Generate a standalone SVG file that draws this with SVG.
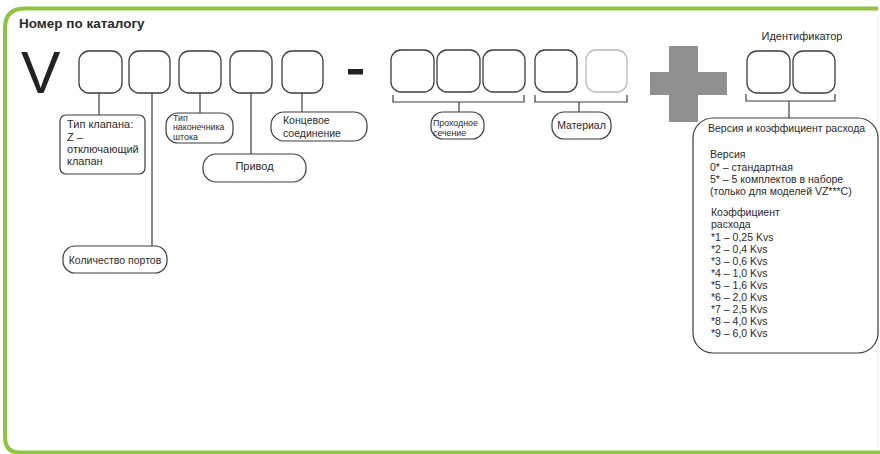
<svg xmlns="http://www.w3.org/2000/svg" width="880" height="454" viewBox="0 0 880 454">
<style>
  text { font-family: "Liberation Sans", Arial, sans-serif; fill: #2a2a2a; }
  .box { fill: #fff; stroke: #3c3c3c; stroke-width: 1.3; }
  .boxl { fill: #fff; stroke: #b8b8b8; stroke-width: 1.3; }
  .lbl { fill: #fff; stroke: #3c3c3c; stroke-width: 1.2; }
  .ln { fill: none; stroke: #3c3c3c; stroke-width: 1.2; }
  .t { font-size: 10.5px; }
  .s { font-size: 8.8px; }
</style>
<rect width="880" height="454" fill="#fff"/>
<line x1="878" y1="14" x2="878" y2="448" stroke="#ececec" stroke-width="1"/>
<path d="M 878 8.5 H 25 Q 5 8.5 5 28 V 437 Q 5 452.5 20 452.5 H 880" fill="none" stroke="#8cc63f" stroke-width="4"/>

<g id="title"><text x="19" y="28" style="font-size:13.5px;font-weight:bold">Номер по каталогу</text></g>
<g id="v-letter"><text x="21" y="93" style="font-size:59px;fill:#222">V</text></g>

<g id="code-boxes-1">
  <rect class="box" x="79" y="51" width="43" height="42" rx="10"/>
  <rect class="box" x="129" y="51" width="41" height="42" rx="10"/>
  <rect class="box" x="179" y="51" width="42" height="42" rx="10"/>
  <rect class="box" x="230" y="51" width="42" height="42" rx="10"/>
  <rect class="box" x="282" y="51" width="41" height="42" rx="10"/>
</g>
<g id="dash"><rect x="348" y="69" width="15" height="5.5" fill="#222"/></g>
<g id="code-boxes-2">
  <rect class="box" x="391" y="50" width="43" height="42" rx="10"/>
  <rect class="box" x="437" y="50" width="43" height="42" rx="10"/>
  <rect class="box" x="483" y="50" width="42" height="42" rx="10"/>
  <rect class="box" x="535" y="50" width="42" height="42" rx="10"/>
  <rect class="boxl" x="586" y="50" width="41" height="42" rx="10"/>
</g>
<g id="plus" fill="#8f8f8f">
  <rect x="669" y="46" width="29" height="76"/>
  <rect x="650" y="72" width="77" height="23"/>
</g>
<g id="identifier">
  <text x="802" y="40" text-anchor="middle" style="font-size:11px">Идентификатор</text>
  <rect class="box" x="747" y="51" width="43" height="42" rx="10"/>
  <rect class="box" x="793" y="51" width="42" height="42" rx="10"/>
</g>

<g id="connectors">
  <line class="ln" x1="99" y1="93" x2="99" y2="115"/>
  <line class="ln" x1="152" y1="93" x2="152" y2="246"/>
  <line class="ln" x1="200" y1="93" x2="200" y2="113"/>
  <line class="ln" x1="251" y1="93" x2="251" y2="154"/>
  <line class="ln" x1="302" y1="93" x2="302" y2="112"/>
  <path class="ln" d="M 393 95 V 102 H 524 V 95"/>
  <line class="ln" x1="459" y1="102" x2="459" y2="112"/>
  <path class="ln" d="M 535 95 V 102 H 627 V 95"/>
  <line class="ln" x1="579" y1="102" x2="579" y2="112"/>
  <path class="ln" d="M 746 94 V 101 H 835 V 94"/>
  <line class="ln" x1="789" y1="101" x2="789" y2="118"/>
</g>

<g id="valve-type">
  <rect class="lbl" x="60" y="115" width="85" height="59" rx="6"/>
  <text x="67" y="128" style="font-size:11px">Тип клапана:</text>
  <text x="67" y="141" style="font-size:11px">Z –</text>
  <text x="67" y="153" style="font-size:11px">отключающий</text>
  <text x="67" y="165" style="font-size:11px">клапан</text>
</g>
<g id="ports">
  <rect class="lbl" x="63" y="246" width="104" height="27" rx="12"/>
  <text class="t" x="115" y="263.5" text-anchor="middle">Количество портов</text>
</g>
<g id="stem-tip">
  <rect class="lbl" x="166" y="113" width="67" height="30" rx="12"/>
  <text class="s" x="173" y="120.5">Тип</text>
  <text class="s" x="173" y="130">наконечника</text>
  <text class="s" x="173" y="139.5">штока</text>
</g>
<g id="actuator">
  <rect class="lbl" x="203" y="154" width="103" height="28" rx="13"/>
  <text x="254.5" y="170" text-anchor="middle" style="font-size:11px">Привод</text>
</g>
<g id="end-connection">
  <rect class="lbl" x="271" y="112" width="96" height="29" rx="13"/>
  <text class="t" x="283" y="124">Концевое</text>
  <text class="t" x="283" y="137">соединение</text>
</g>
<g id="bore">
  <rect class="lbl" x="431" y="112" width="53" height="27" rx="12"/>
  <text class="s" x="433" y="126">Проходное</text>
  <text class="s" x="433" y="135.5">сечение</text>
</g>
<g id="material">
  <rect class="lbl" x="552" y="112" width="59" height="27" rx="12"/>
  <text class="t" x="581.5" y="129" text-anchor="middle">Материал</text>
</g>
<g id="version-flow">
  <rect class="lbl" x="693" y="118" width="185" height="235" rx="20"/>
  <text class="t" x="708" y="132">Версия и коэффициент расхода</text>
  <text class="t" x="710" y="158">Версия</text>
  <text class="t" x="710" y="170.5">0* – стандартная</text>
  <text class="t" x="710" y="182.5">5* – 5 комплектов в наборе</text>
  <text class="t" x="710" y="195">(только для моделей VZ***C)</text>
  <text class="t" x="711" y="216">Коэффициент</text>
  <text class="t" x="711" y="228">расхода</text>
  <text class="t" x="711" y="240.5">*1 – 0,25 Kvs</text>
  <text class="t" x="711" y="252.5">*2 – 0,4 Kvs</text>
  <text class="t" x="711" y="264.5">*3 – 0,6 Kvs</text>
  <text class="t" x="711" y="276.5">*4 – 1,0 Kvs</text>
  <text class="t" x="711" y="288.5">*5 – 1,6 Kvs</text>
  <text class="t" x="711" y="300.5">*6 – 2,0 Kvs</text>
  <text class="t" x="711" y="312.5">*7 – 2,5 Kvs</text>
  <text class="t" x="711" y="324.5">*8 – 4,0 Kvs</text>
  <text class="t" x="711" y="336.5">*9 – 6,0 Kvs</text>
</g>
</svg>
